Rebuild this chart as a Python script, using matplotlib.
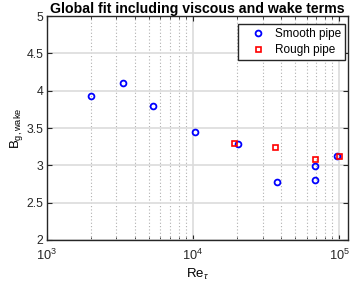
import matplotlib
matplotlib.use('Agg')
import matplotlib.pyplot as plt
from matplotlib.ticker import LogLocator, NullFormatter, MultipleLocator, FuncFormatter

plt.rcParams['font.family'] = ['Liberation Sans', 'DejaVu Sans']
plt.rcParams['mathtext.fontset'] = 'custom'
plt.rcParams['mathtext.rm'] = 'Liberation Sans'
plt.rcParams['mathtext.it'] = 'Liberation Sans:italic'

# Datos
re_liso = [2000, 3300, 5350, 10400, 20200, 37500, 68000, 68000, 96900]
b_liso = [3.93, 4.10, 3.80, 3.44, 3.28, 2.78, 2.99, 2.80, 3.13]

re_rugoso = [19100, 36600, 68200, 100000]
b_rugoso = [3.30, 3.25, 3.09, 3.12]

fig = plt.figure(figsize=(3.54, 2.87), dpi=100)
ax = fig.add_axes([0.132, 0.164, 0.851, 0.780])

ax.plot(re_liso, b_liso, 'o', mfc='none', mec='blue', mew=1.3, ms=4.2,
        label='Smooth pipe', zorder=3)
ax.plot(re_rugoso, b_rugoso, 's', mfc='none', mec='red', mew=1.2, ms=3.6,
        label='Rough pipe', zorder=3)

ax.set_xscale('log')
ax.set_xlim(1e3, 1.15e5)
ax.set_ylim(2, 5)
ax.yaxis.set_major_locator(MultipleLocator(0.5))
ax.yaxis.set_major_formatter(FuncFormatter(lambda v, p: f'{v:g}'))
ax.xaxis.set_minor_locator(LogLocator(base=10, subs=range(2, 10)))
ax.xaxis.set_minor_formatter(NullFormatter())

# Grilla estilo MATLAB
ax.grid(True, which='major', color='#dcdcdc', lw=1.2, ls='-')
ax.grid(True, which='minor', axis='x', color='#b0b0b0', lw=0.8, ls=(0, (1, 2)))
ax.set_axisbelow(True)

for s in ax.spines.values():
    s.set_linewidth(1.0)
    s.set_color('#262626')
ax.tick_params(which='both', direction='in', top=True, right=True,
               labelsize=8.8, colors='#262626')
ax.tick_params(which='major', length=3.5, pad=2.5)
ax.tick_params(which='minor', length=2)
ax.tick_params(axis='x', which='major', pad=6, labelsize=9.2)

ax.set_xlabel(r'Re$_\tau$', fontsize=9.5, labelpad=2.5)
ax.set_ylabel(r'B$_{\rm g,wake}$', fontsize=9.5, labelpad=1)
ax.set_title('Global fit including viscous and wake terms', fontsize=10.2,
             fontweight='bold', pad=2)

leg = ax.legend(loc='upper right', fontsize=8.5, fancybox=False, framealpha=1,
                edgecolor='#262626', borderaxespad=0,
                bbox_to_anchor=(345 / 354, 1 - 24 / 287),
                bbox_transform=fig.transFigure,
                handlelength=2.6, handletextpad=0.15,
                labelspacing=0.3, borderpad=0.35)
leg.get_frame().set_linewidth(1.0)

fig.savefig('out.png', dpi=100)
